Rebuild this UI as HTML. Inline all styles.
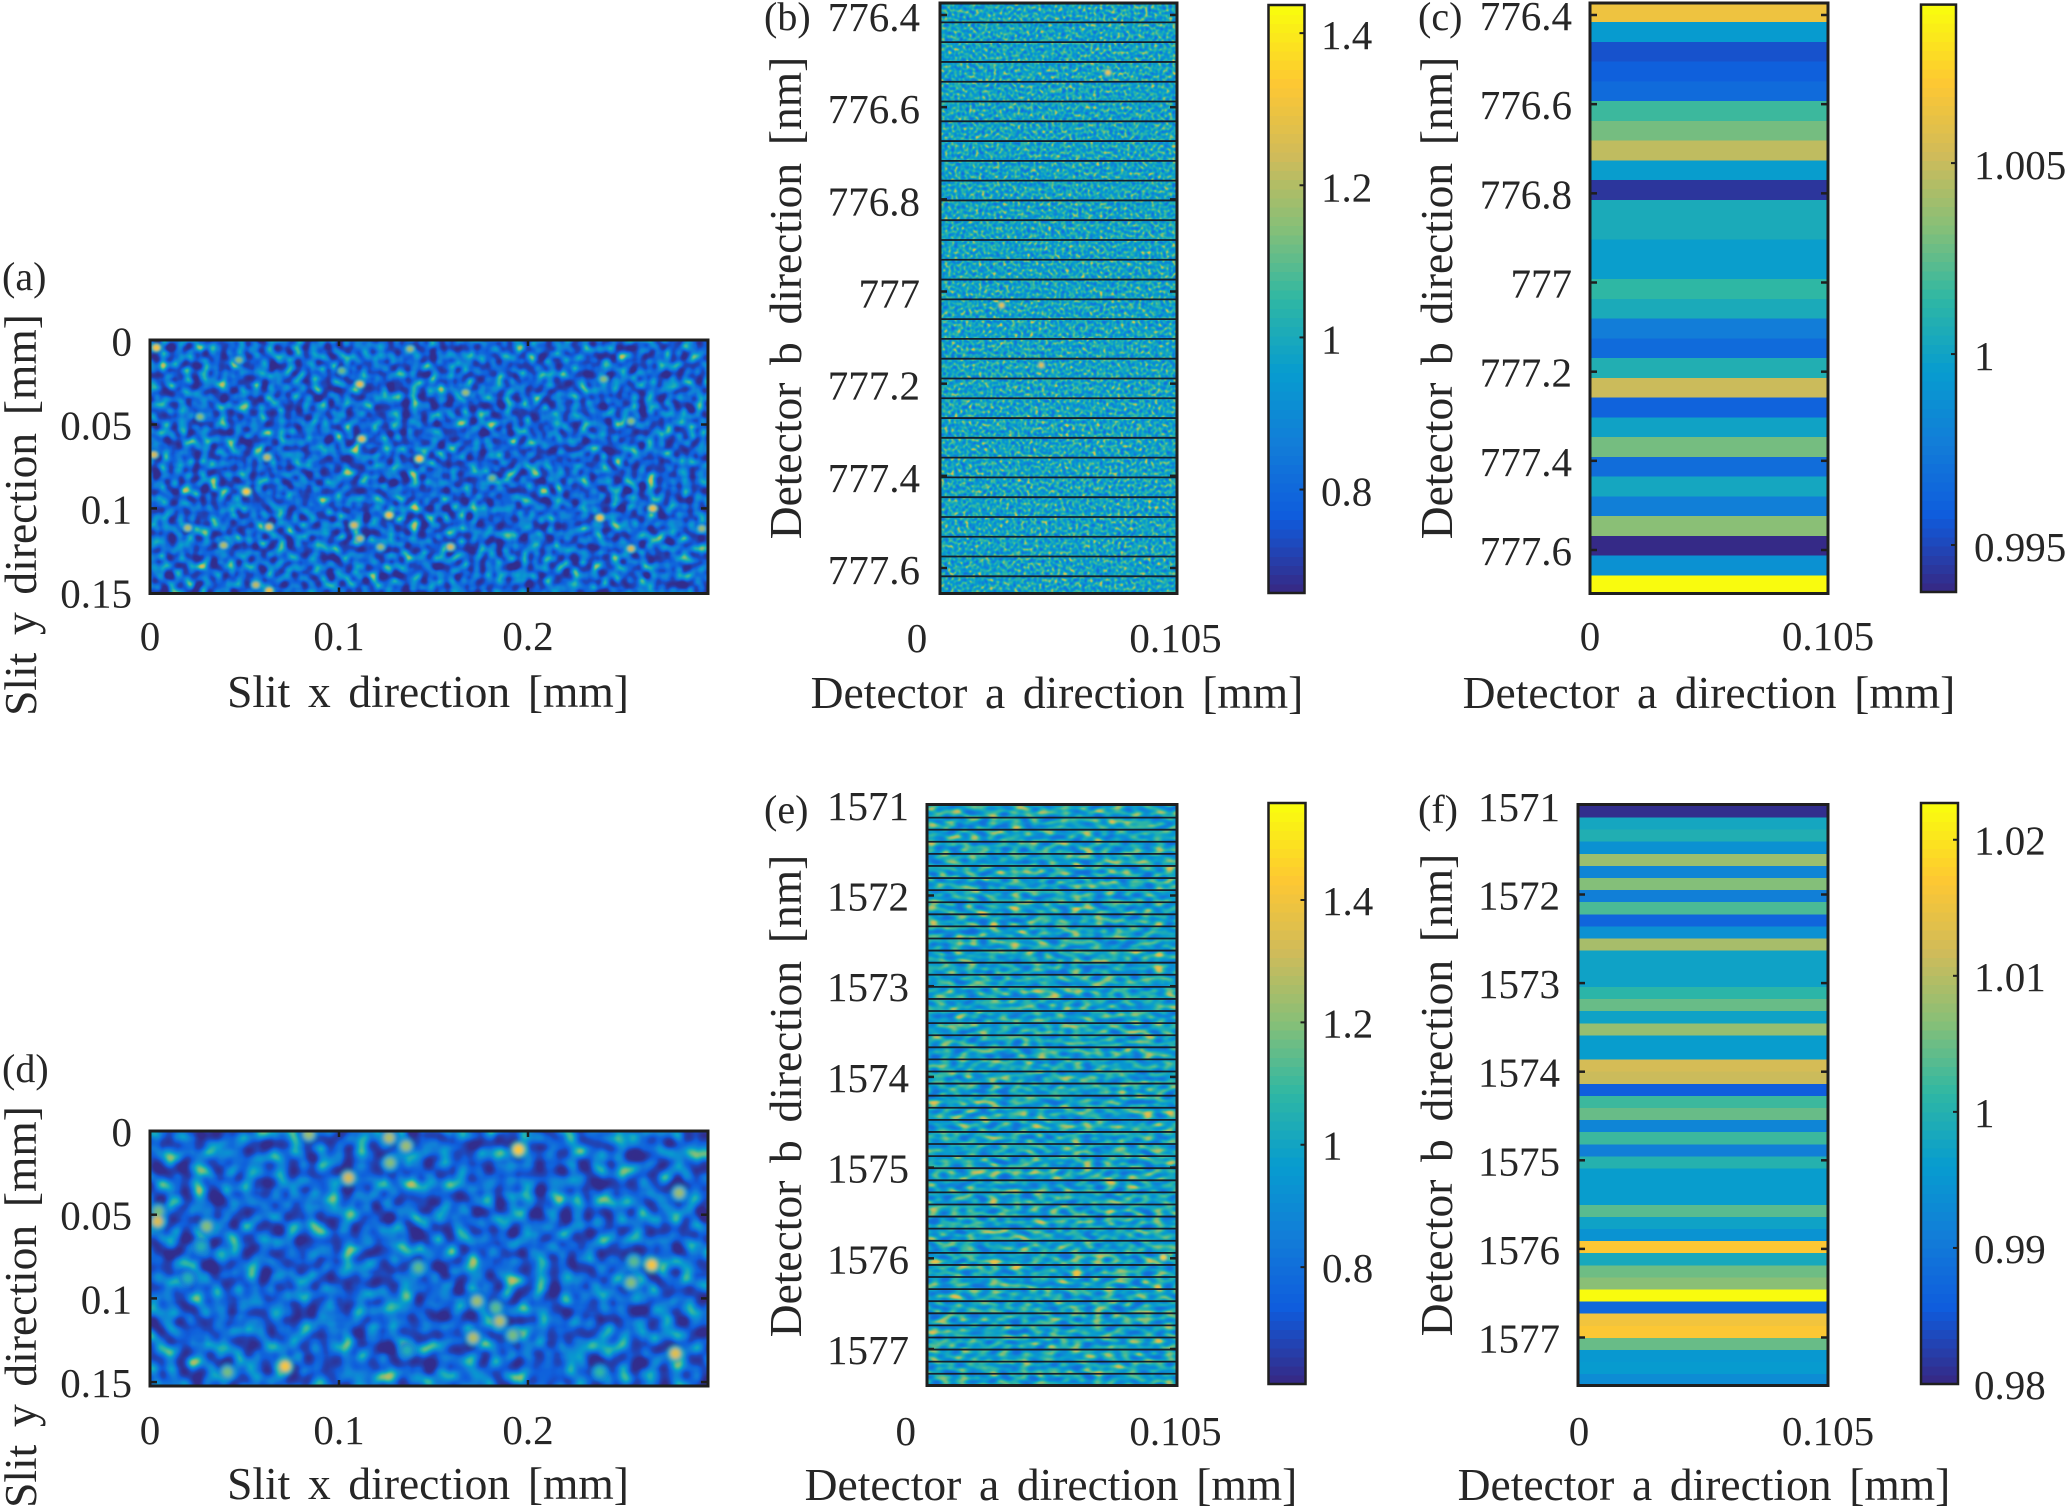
<!DOCTYPE html>
<html lang="en">
<head>
<meta charset="utf-8">
<title>Speckle images and detector spectra</title>
<style>
html,body{margin:0;padding:0;background:#fff;}
svg{display:block;}
text{font-family:"Liberation Serif","Times New Roman",serif;fill:#262626;}
.title{font-size:45.5px;word-spacing:6.3px;text-anchor:middle;}
.tag{font-size:40px;}
.tick{font-size:41px;}
</style>
</head>
<body>
<svg id="figure" xmlns="http://www.w3.org/2000/svg" width="2067" height="1509" viewBox="0 0 2067 1509">
  <rect width="2067" height="1509" fill="#fff"/>
  <defs id="defs"></defs>

  <text class="tag" x="2" y="290">(a)</text>
  <text class="tag" x="764" y="30">(b)</text>
  <text class="tag" x="1418" y="30">(c)</text>
  <text class="tag" x="2" y="1082">(d)</text>
  <text class="tag" x="764" y="823">(e)</text>
  <text class="tag" x="1418" y="823">(f)</text>

  <text class="title" x="428" y="707">Slit x direction [mm]</text>
  <text class="title" transform="translate(36 515) rotate(-90)">Slit y direction [mm]</text>
  <text class="title" x="1057" y="708">Detector a direction [mm]</text>
  <text class="title" transform="translate(801 298) rotate(-90)">Detector b direction [nm]</text>
  <text class="title" x="1709" y="708">Detector a direction [mm]</text>
  <text class="title" transform="translate(1452 298) rotate(-90)">Detector b direction [nm]</text>
  <text class="title" x="428" y="1499">Slit x direction [mm]</text>
  <text class="title" transform="translate(36 1307) rotate(-90)">Slit y direction [mm]</text>
  <text class="title" x="1051" y="1500">Detector a direction [mm]</text>
  <text class="title" transform="translate(801 1096) rotate(-90)">Detector b direction [nm]</text>
  <text class="title" x="1704" y="1500">Detector a direction [mm]</text>
  <text class="title" transform="translate(1452 1095) rotate(-90)">Detector b direction [nm]</text>
</svg>

<script>
// ---------- chart data ----------
const cRowValues = [1.00654,0.99946,0.99531,0.99592,0.99654,1.00177,1.00300,1.00484,0.99961,0.99423,
  1.00054,1.00054,0.99969,0.99969,1.00146,1.00054,0.99762,0.99654,1.00085,1.00515,
  0.99608,1.00000,1.00300,0.99669,1.00023,0.99777,1.00346,0.99377,0.99885,1.00915];
const fRowValues = [0.9804,0.9979,0.9996,0.9941,1.0082,0.9920,1.0065,0.9911,1.0031,0.9868,
  0.9941,1.0090,0.9971,0.9971,0.9971,1.0009,1.0048,0.9971,1.0078,0.9962,
  0.9962,1.0125,1.0116,0.9856,1.0022,1.0048,0.9920,1.0022,0.9911,1.0001,
  0.9962,0.9962,0.9962,1.0039,0.9971,0.9945,1.0171,0.9984,1.0052,1.0069,
  1.0227,0.9873,1.0159,1.0171,1.0048,0.9954,0.9958,0.9932];

// bright speckles: [x mm, y mm or nm, colour level]
const aPeaks = [[.0034,.0042,.86],[.111,.026,.82],[.167,.031,.66],[.112,.0586,.8],[.1425,.0704,.86],
  [.051,.09,.88],[.266,.1,.82],[.238,.1056,.84],[.1265,.104,.85],[.063,.111,.76],[.108,.11,.76],
  [.111,.118,.7],[.159,.123,.76],[.02,.1116,.7],[.122,.123,.66],[.039,.122,.7],[.063,.149,.82],
  [.056,.1456,.72],[.2545,.124,.76],[.24,.023,.62],[.2545,.048,.62],[.1015,.018,.58],[.1376,.005,.66],
  [.062,.0696,.72],[.181,.082,.6],[.292,.112,.66],[.002,.068,.76],[.0265,.0454,.62],[.047,.0116,.62]];
const dPeaks = [[.195,.0112,.88],[.105,.028,.76],[.1265,.004,.7],[.1355,.009,.66],[.127,.019,.62],
  [.004,.054,.78],[.0044,.048,.6],[.03,.057,.62],[.28,.037,.66],[.2655,.08,.86],[.256,.078,.56],
  [.2545,.0906,.62],[.142,.0816,.56],[.173,.1016,.66],[.183,.1056,.56],[.185,.1136,.7],[.171,.1236,.7],
  [.192,.122,.6],[.278,.133,.8],[.0715,.1406,.86],[.041,.144,.6],[.136,.131,.46],[.084,.002,.66],
  [.238,.144,.5],[.02,.088,.46],[.027,.069,.46]];
const bPeaks = [[.0776,776.525,.86],[.0344,777.03,.84],[.0505,777.16,.82]];
const ePeaks = [[.1003,1575.99,.9]];

// tick values and printed labels
const xTicksSlit = [0,0.1,0.2];
const xLabelsSlit = ['0','0.1','0.2'];
const yTicksSlit = [0,0.05,0.1,0.15];
const yLabelsSlit = ['0','0.05','0.1','0.15'];
const xTicksDet = [0,0.105];
const xLabelsDet = ['0','0.105'];
const yTicksVis = [776.4,776.6,776.8,777,777.2,777.4,777.6];
const yLabelsVis = ['776.4','776.6','776.8','777','777.2','777.4','777.6'];
const yTicksIr = [1571,1572,1573,1574,1575,1576,1577];
const yLabelsIr = ['1571','1572','1573','1574','1575','1576','1577'];
const bBarTicks = [0.8,1,1.2,1.4];
const bBarLabels = ['0.8','1','1.2','1.4'];
const cBarTicks = [0.995,1,1.005];
const cBarLabels = ['0.995','1','1.005'];
const eBarTicks = [0.8,1,1.2,1.4];
const eBarLabels = ['0.8','1','1.2','1.4'];
const fBarTicks = [0.98,0.99,1,1.01,1.02];
const fBarLabels = ['0.98','0.99','1','1.01','1.02'];

// ---------- colour map and helpers ----------
const parulaStops = [[53,42,135],[15,92,221],[18,125,216],[7,156,207],[46,183,164],[135,191,119],[209,187,89],[254,200,50],[249,251,14]];
function parula(t){
  t=Math.max(0,Math.min(1,t))*(parulaStops.length-1);
  const i=Math.min(parulaStops.length-2,Math.floor(t)),f=t-i,a=parulaStops[i],b=parulaStops[i+1];
  return [0,1,2].map(k=>a[k]+(b[k]-a[k])*f);
}
function css(t){const c=parula(t);return 'rgb('+c.map(Math.round).join(',')+')';}
function linear(d0,d1,r0,r1){return v=>r0+(v-d0)*(r1-r0)/(d1-d0);}
const NS='http://www.w3.org/2000/svg';
const svg=document.getElementById('figure');
const defs=document.getElementById('defs');
function add(parent,tag,attrs,txt){
  const el=document.createElementNS(NS,tag);
  for(const k in attrs) el.setAttribute(k,attrs[k]);
  if(txt!==undefined) el.textContent=txt;
  parent.appendChild(el);
  return el;
}

// ---------- speckle texture filters ----------
function toneAt(tone,x){
  for(let i=1;i<tone.length;i++){
    if(x<=tone[i][0]){const a=tone[i-1],b=tone[i];return a[1]+(b[1]-a[1])*(x-a[0])/(b[0]-a[0]);}
  }
  return tone[tone.length-1][1];
}
function makeTexture(id,freqA,freqB,seedA,seedB,soft,tone){
  const f=add(defs,'filter',{id:id,x:'0',y:'0',width:'100%',height:'100%','color-interpolation-filters':'sRGB'});
  const grey='1 0 0 0 0  1 0 0 0 0  1 0 0 0 0  0 0 0 0 1';
  add(f,'feTurbulence',{type:'fractalNoise',baseFrequency:freqA,numOctaves:'1',seed:seedA,result:'n1raw'});
  add(f,'feColorMatrix',{in:'n1raw',type:'matrix',values:grey,result:'n1'});
  add(f,'feTurbulence',{type:'fractalNoise',baseFrequency:freqB,numOctaves:'1',seed:seedB,result:'n2raw'});
  add(f,'feColorMatrix',{in:'n2raw',type:'matrix',values:grey,result:'n2'});
  add(f,'feComposite',{in:'n1',in2:'n2',operator:'arithmetic',k1:'0',k2:'0.7',k3:'0.7',k4:'-0.2',result:'mix'});
  add(f,'feGaussianBlur',{in:'mix',stdDeviation:soft,result:'soft'});
  const ct=add(f,'feComponentTransfer',{in:'soft'});
  const n=40,tab=[[],[],[]];
  for(let i=0;i<=n;i++){
    const c=parula(toneAt(tone,i/n));
    for(let k=0;k<3;k++) tab[k].push((c[k]/255).toFixed(3));
  }
  ['feFuncR','feFuncG','feFuncB'].forEach((nm,k)=>add(ct,nm,{type:'table',tableValues:tab[k].join(' ')}));
}
const slitTone=[[0,0],[.3,.01],[.42,.08],[.52,.19],[.62,.33],[.72,.5],[.85,.75],[1,.9]];
const detTone=[[0,.14],[.32,.23],[.42,.33],[.5,.41],[.58,.49],[.68,.61],[.8,.78],[1,.93]];
makeTexture('tex-a','0.105','0.119','3','17','0.5',slitTone);
makeTexture('tex-d','0.062','0.073','11','29','0.8',slitTone);
makeTexture('tex-b','0.29','0.33','5','23','0.45',detTone);
makeTexture('tex-e','0.085 0.17','0.097 0.2','8','31','0.6',detTone);
const blurS=add(defs,'filter',{id:'blur-s',x:'-50%',y:'-50%',width:'200%',height:'200%'});
add(blurS,'feGaussianBlur',{stdDeviation:'1.2'});
const blurL=add(defs,'filter',{id:'blur-l',x:'-50%',y:'-50%',width:'200%',height:'200%'});
add(blurL,'feGaussianBlur',{stdDeviation:'2.2'});

// ---------- drawing ----------
const INK='#1f1f1f';
function drawFrame(g,id,b){
  const fr=add(g,'rect',{x:b.x0,y:b.y0,width:b.x1-b.x0,height:b.y1-b.y0,fill:'none',stroke:INK,'stroke-width':3});
  
  
}
function drawAxes(g,p){
  const b=p.box;
  p.xTicks.forEach((v,i)=>{
    const x=p.x(v);
    if(p.xMarks && v>0){
      [[b.y1,b.y1-6],[b.y0,b.y0+6]].forEach(s=>{
        const t=add(g,'line',{x1:x,x2:x,y1:s[0],y2:s[1],stroke:INK,'stroke-width':2.5});
        
        
      });
    }
    const l=add(g,'text',{class:'tick',x:x,y:p.xLabelY,'text-anchor':'middle'},p.xLabels[i]);
    
    
  });
  p.yTicks.forEach((v,i)=>{
    const y=p.y(v);
    if(y>b.y0+3 && y<b.y1-3){
      [[b.x0,b.x0+7],[b.x1,b.x1-7]].forEach(s=>{
        const t=add(g,'line',{x1:s[0],x2:s[1],y1:y,y2:y,stroke:INK,'stroke-width':2.5});
        
        
      });
    }
    const l=add(g,'text',{class:'tick',x:p.yLabelX,y:y+p.yLabelDy,'text-anchor':'end'},p.yLabels[i]);
    
    
  });
}
function drawColorbar(g,p){
  const c=p.bar;
  const scale=linear(c.min,c.max,c.y1,c.y0);
  const levels=64;
  for(let i=0;i<levels;i++){
    const lo=c.min+(c.max-c.min)*i/levels, hi=c.min+(c.max-c.min)*(i+1)/levels;
    const r=add(g,'rect',{x:c.x0,width:c.x1-c.x0,y:scale(hi),height:scale(lo)-scale(hi)+.6,fill:css(i/(levels-1)),'shape-rendering':'crispEdges'});
    
    
  }
  const fr=add(g,'rect',{x:c.x0,y:c.y0,width:c.x1-c.x0,height:c.y1-c.y0,fill:'none',stroke:INK,'stroke-width':2.5});
  
  
  c.ticks.forEach((v,i)=>{
    const y=scale(v);
    const t=add(g,'line',{x1:c.x1,x2:c.x1-5,y1:y,y2:y,stroke:INK,'stroke-width':2});
    
    
    const l=add(g,'text',{class:'tick',x:c.labelX,y:y+c.labelDy},c.labels[i]);
    
    
  });
}
function drawSpeckle(g,p){
  const b=p.box;
  const clipId='clip-'+p.id;
  const cp=add(defs,'clipPath',{id:clipId});
  add(cp,'rect',{x:b.x0,y:b.y0,width:b.x1-b.x0,height:b.y1-b.y0});
  const im=add(g,'rect',{x:b.x0,y:b.y0,width:b.x1-b.x0,height:b.y1-b.y0,fill:'#000',filter:'url(#'+p.texture+')'});
  
  
  const pk=add(g,'g',{'clip-path':'url(#'+clipId+')'});
  
  
  const inner=add(pk,'g',{filter:'url(#'+p.peakBlur+')'});
  
  
  p.peaks.forEach(d=>{
    const halo=add(inner,'ellipse',{cx:p.x(d[0]),cy:p.y(d[1]),rx:p.peakR[0]*1.5,ry:p.peakR[1]*1.5,fill:css(d[2]*.55)});
    
    
  });
  p.peaks.forEach(d=>{
    const e=add(inner,'ellipse',{cx:p.x(d[0]),cy:p.y(d[1]),rx:p.peakR[0]*.85,ry:p.peakR[1]*.85,fill:css(d[2])});
    
    
  });
}
function drawRowLines(g,p){
  const b=p.box;
  for(let i=0;i<p.lineCount;i++){
    const y=p.y(p.lineStart+i*p.linePitch);
    const l=add(g,'line',{x1:b.x0,x2:b.x1,y1:y,y2:y,stroke:'#15202e','stroke-width':1.8});
    
    
  }
}
function drawRows(g,p){
  const b=p.box;
  const toColor=v=>(v-p.bar.min)/(p.bar.max-p.bar.min);
  p.rows.forEach((v,i)=>{
    const top=i===0?b.y0:p.y(p.lineStart+(i-1)*p.linePitch);
    const bot=i===p.rows.length-1?b.y1:p.y(p.lineStart+i*p.linePitch);
    const r=add(g,'rect',{x:b.x0,width:b.x1-b.x0,y:top,height:bot-top+.5,fill:css(toColor(v)),'shape-rendering':'crispEdges'});
    
    
  });
}
function drawPanel(p){
  const g=add(svg,'g',{});
  
  
  if(p.texture) drawSpeckle(g,p);
  if(p.rows) drawRows(g,p);
  if(p.lineCount && !p.rows) drawRowLines(g,p);
  drawAxes(g,p);
  drawFrame(g,p.id,p.box);
  if(p.bar) drawColorbar(g,p);
}

// ---------- panels ----------
drawPanel({id:'a',box:{x0:150,x1:708,y0:340,y1:593.5},
  x:linear(0,.1,150,339),y:linear(0,.05,340.6,424.5),
  xTicks:xTicksSlit,xLabels:xLabelsSlit,xMarks:true,xLabelY:650,
  yTicks:yTicksSlit,yLabels:yLabelsSlit,yLabelX:132,yLabelDy:15,
  texture:'tex-a',peaks:aPeaks,peakR:[4,3.4],peakBlur:'blur-s'});
drawPanel({id:'d',box:{x0:150,x1:708,y0:1131,y1:1386},
  x:linear(0,.1,150,339),y:linear(0,.05,1131,1214.7),
  xTicks:xTicksSlit,xLabels:xLabelsSlit,xMarks:true,xLabelY:1444,
  yTicks:yTicksSlit,yLabels:yLabelsSlit,yLabelX:132,yLabelDy:15,
  texture:'tex-d',peaks:dPeaks,peakR:[6,6],peakBlur:'blur-l'});
drawPanel({id:'b',box:{x0:940,x1:1177,y0:3,y1:593.5},
  x:linear(0,.105,917,1175.5),y:linear(776.4,777.6,15,568),
  xTicks:xTicksDet,xLabels:xLabelsDet,xLabelY:652,
  yTicks:yTicksVis,yLabels:yLabelsVis,yLabelX:920,yLabelDy:16,
  texture:'tex-b',peaks:bPeaks,peakR:[3,3],peakBlur:'blur-s',
  lineCount:29,lineStart:776.416,linePitch:.04293,
  bar:{x0:1268.5,x1:1304.5,y0:5,y1:593,min:.664,max:1.437,ticks:bBarTicks,labels:bBarLabels,labelX:1321,labelDy:16}});
drawPanel({id:'c',box:{x0:1590,x1:1828,y0:3,y1:593.5},
  x:linear(0,.105,1590,1828),y:linear(776.4,777.6,15,550),
  xTicks:xTicksDet,xLabels:xLabelsDet,xLabelY:650,
  yTicks:yTicksVis,yLabels:yLabelsVis,yLabelX:1572,yLabelDy:15,
  rows:cRowValues,lineStart:776.416,linePitch:.04432,
  bar:{x0:1921,x1:1956,y0:4.6,y1:592,min:.99377,max:1.00915,ticks:cBarTicks,labels:cBarLabels,labelX:1974,labelDy:16}});
drawPanel({id:'e',box:{x0:927,x1:1177,y0:804.5,y1:1385.5},
  x:linear(0,.105,905.7,1175.5),y:linear(1572,1577,895.5,1349),
  xTicks:xTicksDet,xLabels:xLabelsDet,xLabelY:1445,
  yTicks:yTicksIr,yLabels:yLabelsIr,yLabelX:909,yLabelDy:15,
  texture:'tex-e',peaks:ePeaks,peakR:[3.5,3],peakBlur:'blur-s',
  lineCount:47,lineStart:1571.141,linePitch:.1333,
  bar:{x0:1268.5,x1:1305.5,y0:803,y1:1384,min:.609,max:1.5585,ticks:eBarTicks,labels:eBarLabels,labelX:1322,labelDy:15}});
drawPanel({id:'f',box:{x0:1578,x1:1828,y0:804.5,y1:1385.5},
  x:linear(0,.105,1579,1828),y:linear(1572,1577,894.5,1337.5),
  xTicks:xTicksDet,xLabels:xLabelsDet,xLabelY:1445,
  yTicks:yTicksIr,yLabels:yLabelsIr,yLabelX:1560,yLabelDy:15,
  rows:fRowValues,lineStart:1571.131,linePitch:.1366,
  bar:{x0:1921,x1:1958,y0:803,y1:1384,min:.98,max:1.0227,ticks:fBarTicks,labels:fBarLabels,labelX:1974,labelDy:15}});
</script>
</body>
</html>
